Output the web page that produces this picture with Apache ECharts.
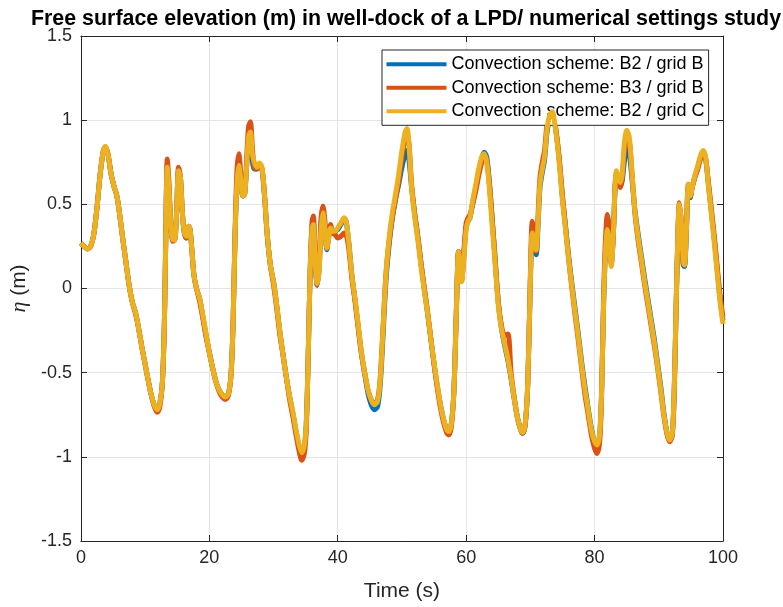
<!DOCTYPE html>
<html>
<head>
<meta charset="utf-8">
<script src="https://cdn.jsdelivr.net/npm/echarts@6/dist/echarts.min.js"></script>
<style>
html,body{margin:0;padding:0;background:#fff;}
#chart{width:783px;height:607px;}
</style>
</head>
<body>
<div id="chart"></div>
<script>
// Time samples (s)
const timeS = [0,0.5,1.0,1.5,2.0,2.5,3.0,3.5,3.8,4.2,4.7,5.2,5.6,6.0,6.5,7.0,7.5,8.0,8.5,9.0,9.5,10.0,10.5,11.0,11.5,11.9,12.3,12.7,13.0,13.2,13.45,13.7,14.0,14.3,14.6,14.9,15.2,15.5,15.8,16.1,16.4,16.8,17.0,17.3,17.6,18.0,18.5,19.0,19.5,20.0,20.5,21.0,21.5,22.0,22.5,23.0,23.4,23.7,24.0,24.3,24.6,24.9,25.2,25.5,25.8,26.1,26.4,26.7,27.0,27.4,27.8,28.2,28.6,29.0,29.5,30.0,30.5,31.0,31.5,32.0,32.5,33.0,33.5,34.0,34.4,34.8,35.1,35.4,35.7,36.0,36.2,36.5,36.8,37.1,37.4,37.7,38.0,38.3,38.6,38.9,39.2,39.6,40.0,40.5,41.0,41.3,41.7,42.2,42.7,43.2,43.7,44.2,44.7,45.2,45.7,46.2,46.6,47.0,47.5,48.0,48.5,49.0,49.5,50.0,50.5,50.8,51.1,51.5,52.0,52.5,53.0,53.5,54.0,54.5,55.0,55.5,56.0,56.5,57.0,57.3,57.7,58.1,58.5,58.8,59.0,59.3,59.6,60.0,60.3,60.6,61.0,61.5,62.0,62.5,62.8,63.2,63.6,64.0,64.5,65.0,65.5,66.0,66.5,67.0,67.5,68.0,68.5,68.8,69.2,69.6,70.0,70.3,70.6,70.9,71.2,71.5,71.9,72.2,72.6,73.0,73.4,73.8,74.2,74.6,75.0,75.5,76.0,76.5,77.0,77.5,78.0,78.5,79.0,79.5,80.0,80.4,80.8,81.1,81.4,81.7,82.0,82.3,82.6,82.9,83.2,83.4,83.7,84.0,84.3,84.6,85.0,85.4,85.8,86.3,86.8,87.3,87.8,88.3,88.8,89.3,89.8,90.3,90.8,91.3,91.7,92.1,92.4,92.7,93.0,93.2,93.5,93.8,94.0,94.3,94.6,94.9,95.2,95.6,96.0,96.5,96.9,97.3,97.7,98.2,98.7,99.2,99.6,100];

// Convection scheme: B2 / grid B
const etaB2gridB = [0.27,0.25,0.235,0.25,0.32,0.48,0.68,0.82,0.84,0.80,0.68,0.60,0.55,0.45,0.30,0.16,0.02,-0.08,-0.14,-0.24,-0.35,-0.45,-0.55,-0.64,-0.70,-0.72,-0.68,-0.55,-0.20,0.25,0.73,0.60,0.38,0.29,0.29,0.45,0.70,0.66,0.45,0.33,0.30,0.37,0.35,0.22,0.08,0.0,-0.06,-0.17,-0.28,-0.38,-0.47,-0.55,-0.60,-0.63,-0.645,-0.62,-0.50,-0.20,0.30,0.62,0.74,0.66,0.55,0.56,0.72,0.88,0.92,0.76,0.71,0.71,0.73,0.71,0.55,0.33,0.14,0.04,-0.10,-0.26,-0.40,-0.53,-0.64,-0.74,-0.85,-0.94,-0.98,-0.94,-0.80,-0.40,0.10,0.37,0.39,0.14,0.02,0.12,0.38,0.46,0.37,0.23,0.31,0.36,0.33,0.34,0.35,0.38,0.41,0.40,0.28,0.08,-0.07,-0.23,-0.39,-0.51,-0.62,-0.69,-0.72,-0.70,-0.58,-0.32,0.04,0.26,0.42,0.53,0.62,0.72,0.80,0.82,0.76,0.60,0.44,0.30,0.14,-0.01,-0.15,-0.30,-0.45,-0.58,-0.69,-0.78,-0.84,-0.85,-0.80,-0.60,-0.10,0.22,0.15,0.05,0.18,0.37,0.40,0.42,0.50,0.60,0.70,0.78,0.81,0.78,0.64,0.44,0.18,-0.08,-0.24,-0.34,-0.43,-0.54,-0.66,-0.77,-0.84,-0.86,-0.81,-0.56,0.04,0.32,0.24,0.20,0.38,0.60,0.70,0.76,0.93,1.01,1.04,0.98,0.87,0.72,0.54,0.36,0.18,0.02,-0.13,-0.28,-0.44,-0.58,-0.71,-0.83,-0.91,-0.935,-0.87,-0.60,-0.10,0.22,0.36,0.30,0.14,0.30,0.60,0.68,0.64,0.61,0.64,0.74,0.83,0.80,0.66,0.46,0.32,0.19,0.06,-0.06,-0.18,-0.30,-0.44,-0.58,-0.74,-0.86,-0.905,-0.87,-0.62,-0.12,0.34,0.49,0.38,0.14,0.13,0.34,0.60,0.54,0.60,0.66,0.71,0.78,0.81,0.77,0.63,0.45,0.27,0.07,-0.08,-0.19];

// Convection scheme: B3 / grid B
const etaB3gridB = [0.27,0.25,0.235,0.25,0.32,0.48,0.68,0.82,0.84,0.80,0.68,0.60,0.55,0.45,0.30,0.16,0.02,-0.08,-0.15,-0.24,-0.35,-0.45,-0.55,-0.64,-0.71,-0.735,-0.70,-0.55,-0.20,0.28,0.77,0.64,0.38,0.28,0.29,0.45,0.72,0.66,0.45,0.33,0.30,0.37,0.35,0.22,0.08,0.0,-0.08,-0.18,-0.29,-0.38,-0.47,-0.55,-0.61,-0.645,-0.66,-0.63,-0.50,-0.20,0.32,0.70,0.80,0.68,0.55,0.56,0.76,0.96,0.99,0.84,0.72,0.71,0.74,0.71,0.55,0.32,0.14,0.02,-0.12,-0.28,-0.40,-0.53,-0.66,-0.76,-0.87,-0.97,-1.02,-0.98,-0.84,-0.40,0.10,0.40,0.43,0.16,0.02,0.14,0.42,0.49,0.40,0.24,0.32,0.38,0.33,0.32,0.30,0.31,0.33,0.32,0.24,0.06,-0.08,-0.24,-0.39,-0.50,-0.60,-0.66,-0.685,-0.66,-0.54,-0.27,0.08,0.28,0.42,0.53,0.64,0.78,0.90,0.93,0.86,0.62,0.44,0.30,0.14,0.0,-0.14,-0.30,-0.45,-0.59,-0.71,-0.80,-0.86,-0.87,-0.82,-0.60,-0.10,0.22,0.15,0.06,0.20,0.39,0.42,0.44,0.50,0.58,0.68,0.76,0.79,0.76,0.63,0.44,0.18,-0.08,-0.22,-0.28,-0.27,-0.50,-0.65,-0.77,-0.84,-0.86,-0.81,-0.56,0.08,0.40,0.34,0.22,0.44,0.66,0.76,0.82,0.98,1.05,1.06,0.99,0.88,0.73,0.55,0.36,0.16,-0.01,-0.17,-0.32,-0.48,-0.63,-0.75,-0.87,-0.95,-0.98,-0.91,-0.62,-0.05,0.30,0.44,0.36,0.16,0.30,0.62,0.69,0.63,0.60,0.66,0.80,0.90,0.88,0.70,0.44,0.28,0.15,0.02,-0.10,-0.22,-0.34,-0.47,-0.61,-0.76,-0.87,-0.91,-0.87,-0.62,-0.10,0.36,0.51,0.40,0.15,0.14,0.35,0.62,0.55,0.60,0.66,0.70,0.77,0.80,0.77,0.64,0.47,0.29,0.09,-0.06,-0.17];

// Convection scheme: B2 / grid C
const etaB2gridC = [0.27,0.25,0.235,0.25,0.32,0.48,0.68,0.82,0.845,0.80,0.68,0.60,0.55,0.45,0.30,0.16,0.02,-0.08,-0.14,-0.24,-0.35,-0.45,-0.55,-0.64,-0.70,-0.72,-0.68,-0.55,-0.20,0.25,0.72,0.60,0.38,0.29,0.29,0.45,0.70,0.66,0.45,0.33,0.31,0.37,0.35,0.22,0.08,0.0,-0.06,-0.16,-0.27,-0.38,-0.47,-0.55,-0.60,-0.63,-0.645,-0.62,-0.50,-0.20,0.30,0.62,0.73,0.65,0.55,0.56,0.72,0.90,0.93,0.80,0.75,0.72,0.745,0.72,0.55,0.33,0.14,0.04,-0.10,-0.26,-0.40,-0.53,-0.64,-0.73,-0.84,-0.93,-0.975,-0.93,-0.80,-0.40,0.10,0.36,0.38,0.15,0.03,0.10,0.35,0.45,0.35,0.24,0.30,0.36,0.34,0.34,0.36,0.39,0.42,0.40,0.28,0.08,-0.06,-0.22,-0.38,-0.50,-0.60,-0.66,-0.69,-0.67,-0.55,-0.28,0.08,0.30,0.45,0.56,0.68,0.82,0.93,0.95,0.85,0.60,0.42,0.28,0.12,-0.02,-0.15,-0.30,-0.44,-0.57,-0.69,-0.78,-0.84,-0.85,-0.80,-0.60,-0.10,0.22,0.15,0.04,0.15,0.35,0.40,0.42,0.52,0.62,0.72,0.79,0.80,0.75,0.60,0.40,0.15,-0.10,-0.24,-0.33,-0.42,-0.53,-0.66,-0.77,-0.84,-0.855,-0.80,-0.55,0.05,0.33,0.28,0.23,0.40,0.62,0.72,0.78,0.95,1.03,1.05,0.98,0.86,0.70,0.52,0.34,0.16,0.0,-0.15,-0.30,-0.46,-0.60,-0.72,-0.84,-0.91,-0.93,-0.86,-0.60,-0.10,0.22,0.35,0.28,0.13,0.30,0.62,0.70,0.66,0.63,0.68,0.85,0.94,0.90,0.70,0.45,0.30,0.17,0.04,-0.08,-0.20,-0.32,-0.46,-0.60,-0.75,-0.86,-0.90,-0.86,-0.60,-0.10,0.35,0.50,0.40,0.17,0.14,0.35,0.62,0.55,0.60,0.67,0.72,0.79,0.82,0.78,0.62,0.44,0.25,0.05,-0.10,-0.21];

const seriesNames = ['Convection scheme: B2 / grid B','Convection scheme: B3 / grid B','Convection scheme: B2 / grid C'];
const xTicks = [0,20,40,60,80,100];
const yTicks = [-1.5,-1,-0.5,0,0.5,1,1.5];

const pair = arr => timeS.map((t,i)=>[t,arr[i]]);
const colors = ['#0072BD','#D95319','#EDB120'];
const dataSets = [etaB2gridB, etaB3gridB, etaB2gridC];
const font = 'Liberation Sans, Arial, Helvetica, sans-serif';
const axCol = '#262626';

const chart = echarts.init(document.getElementById('chart'));
chart.setOption({
  animation:false,
  backgroundColor:'#fff',
  title:{
    text:'Free surface elevation (m) in well-dock of a LPD/ numerical settings study',
    left:401, top:4, textAlign:'center',
    textStyle:{fontFamily:font,fontSize:21.4,fontWeight:'bold',color:'#000'}
  },
  legend:{
    orient:'vertical', left:382, top:50,
    data:seriesNames,
    icon:'rect', itemWidth:60, itemHeight:4, itemGap:5.5,
    padding:[5.3,4,5,4.5],
    backgroundColor:'#fff', borderColor:'#262626', borderWidth:1, borderRadius:0,
    textStyle:{fontFamily:font,fontSize:18,color:'#000'}
  },
  grid:{left:79,right:60,top:36,bottom:62,containLabel:false},
  xAxis:[{
    type:'value', min:0, max:100, interval:20,
    name:'Time (s)', nameLocation:'middle', nameGap:40,
    nameTextStyle:{fontFamily:font,fontSize:21,color:axCol},
    axisLine:{show:true,onZero:false,lineStyle:{color:axCol,width:1}},
    axisTick:{show:true,inside:true,length:6,lineStyle:{color:axCol}},
    axisLabel:{fontFamily:font,fontSize:18,color:axCol,margin:8},
    splitLine:{show:true,lineStyle:{color:'#e5e5e5',width:1}}
  },{
    type:'value', min:0, max:100, interval:20, position:'top',
    axisLine:{show:true,onZero:false,lineStyle:{color:axCol,width:1}},
    axisTick:{show:true,inside:true,length:6,lineStyle:{color:axCol}},
    axisLabel:{show:false}, splitLine:{show:false}
  }],
  yAxis:[{
    type:'value', min:-1.5, max:1.5, interval:0.5,
    name:'{i|η} (m)', nameLocation:'middle', nameGap:48, nameRotate:90,
    nameTextStyle:{fontFamily:font,fontSize:21,color:axCol,
      rich:{i:{fontFamily:'Liberation Serif, Times New Roman, serif',fontStyle:'italic',fontSize:22,color:axCol}}},
    axisLine:{show:true,onZero:false,lineStyle:{color:axCol,width:1}},
    axisTick:{show:true,inside:true,length:6,lineStyle:{color:axCol}},
    axisLabel:{fontFamily:font,fontSize:18,color:axCol,margin:9},
    splitLine:{show:true,lineStyle:{color:'#e5e5e5',width:1}}
  },{
    type:'value', min:-1.5, max:1.5, interval:0.5, position:'right',
    axisLine:{show:true,onZero:false,lineStyle:{color:axCol,width:1}},
    axisTick:{show:true,inside:true,length:6,lineStyle:{color:axCol}},
    axisLabel:{show:false}, splitLine:{show:false}
  }],
  series: dataSets.map((arr,i)=>({
    name:seriesNames[i], type:'line', data:pair(arr),
    xAxisIndex:0, yAxisIndex:0,
    showSymbol:false, smooth:0.3, clip:true,
    lineStyle:{color:colors[i],width:5},
    itemStyle:{color:colors[i]},
    z:2+i
  }))
});
</script>
</body>
</html>
